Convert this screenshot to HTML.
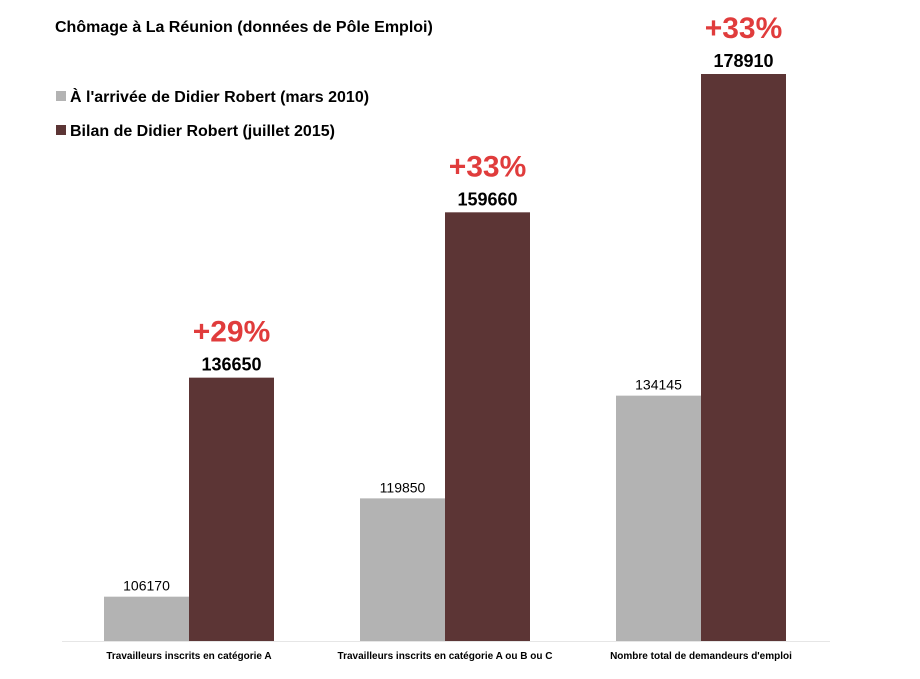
<!DOCTYPE html>
<html><head><meta charset="utf-8">
<style>
html,body{margin:0;padding:0;background:#fff;}
svg{display:block;font-family:"Liberation Sans",Arial,sans-serif;}
</style></head>
<body>
<svg id="chart" width="920" height="679" viewBox="0 0 920 679">
  <text x="55" y="32" font-size="16" font-weight="bold" fill="#000">Chômage à La Réunion (données de Pôle Emploi)</text>
  <g>
    <g>
      <rect x="56" y="91" width="10" height="10" fill="#b3b3b3"></rect>
      <text x="70" y="102" font-size="16" font-weight="bold" fill="#000">À l'arrivée de Didier Robert (mars 2010)</text>
    </g>
    <g>
      <rect x="56" y="125" width="10" height="10" fill="#5c3535"></rect>
      <text x="70" y="136" font-size="16" font-weight="bold" fill="#000">Bilan de Didier Robert (juillet 2015)</text>
    </g>
  </g>
  <line x1="62" y1="641.5" x2="830" y2="641.5" stroke="#e6e6e6" stroke-width="1"></line>
  <g id="bars"></g>
</svg>
<script>
const categories = ["Travailleurs inscrits en catégorie A","Travailleurs inscrits en catégorie A ou B ou C","Nombre total de demandeurs d'emploi"];
const series2010 = [106170, 119850, 134145];
const series2015 = [136650, 159660, 178910];

const yMin = 100000, yMaxVal = 178910;
const baseY = 641, topY = 74;
function y(v){ return baseY - (v - yMin) * (baseY - topY) / (yMaxVal - yMin); }
const groupStart = 62, groupW = 256, barW = 85;
function xCenter(i){ return groupStart + groupW * i + 127; }

const NS = "http://www.w3.org/2000/svg";
const g = document.getElementById('bars');
function mk(tag, attrs, txt){
  const e = document.createElementNS(NS, tag);
  for (const k in attrs) e.setAttribute(k, attrs[k]);
  if (txt !== undefined) e.textContent = txt;
  g.appendChild(e);
  return e;
}
categories.forEach((c, i) => {
  const cx = xCenter(i);
  const y1 = y(series2010[i]), y2 = y(series2015[i]);
  const b1 = mk('rect', {x: cx - barW, y: y1, width: barW, height: baseY - y1, fill: '#b3b3b3'});
  
  
  const b2 = mk('rect', {x: cx, y: y2, width: barW, height: baseY - y2, fill: '#5c3535'});
  
  
  const l1 = mk('text', {x: cx - barW/2, y: y1 - 6, 'font-size': 14, 'text-anchor': 'middle', fill: '#000'}, String(series2010[i]));
  
  
  const l2 = mk('text', {x: cx + barW/2, y: y2 - 7, 'font-size': 18, 'font-weight': 'bold', 'text-anchor': 'middle', fill: '#000'}, String(series2015[i]));
  
  
  const pct = Math.round((series2015[i] / series2010[i] - 1) * 100);
  const p = mk('text', {x: cx + barW/2, y: y2 - 36, 'font-size': 30, 'font-weight': 'bold', 'text-anchor': 'middle', fill: '#e03c3c'}, '+' + pct + '%');
  
  
  const cl = mk('text', {x: cx, y: 659, 'font-size': 10, 'font-weight': 'bold', 'text-anchor': 'middle', fill: '#000'}, c);
  
  
});
</script>
</body></html>
